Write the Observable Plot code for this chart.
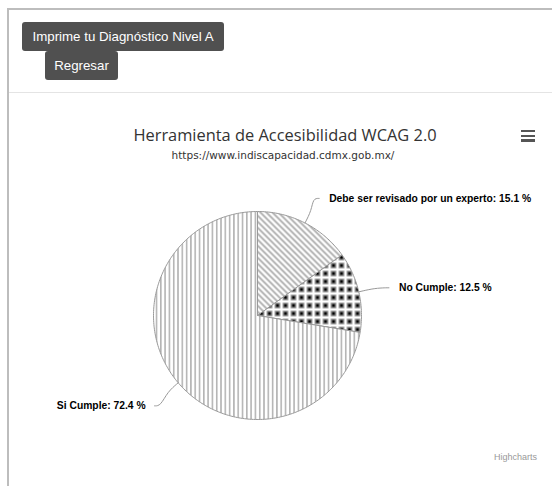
<!DOCTYPE html>
<html>
<head>
<meta charset="utf-8">
<script src="https://cdn.jsdelivr.net/npm/d3@7"></script>
<script src="https://cdn.jsdelivr.net/npm/@observablehq/plot@0.6"></script>
<style>
  html, body { margin: 0; padding: 0; background: #fff; }
  body { width: 552px; height: 486px; position: relative; overflow: hidden; font-family: "Liberation Sans", Arial, sans-serif; }
  .frame { position: absolute; left: 7px; top: 8px; width: 700px; height: 700px; border-left: 2px solid #bdbdbd; border-top: 2px solid #bdbdbd; }
  .btn { position: absolute; background: #505050; color: #fff; border-radius: 3px; font-size: 13.3px; display: flex; align-items: center; justify-content: center; }
  .sep { position: absolute; left: 9px; top: 91.5px; width: 543px; height: 1.5px; background: #e4e4e4; }
  .title { position: absolute; left: 9px; width: 552px; text-align: center; color: #333; }
  .bar { position: absolute; left: 520.5px; width: 14.5px; height: 2.4px; background: #555; }
  .credit { position: absolute; right: 15px; top: 452px; font-size: 9px; color: #999; }
  #chart { position: absolute; left: 9px; top: 165px; }
</style>
</head>
<body>
<svg width="0" height="0" style="position:absolute">
  <defs>
    <pattern id="p-diag" patternUnits="userSpaceOnUse" width="6" height="6">
      <rect width="6" height="6" fill="#fff"/>
      <path d="M0 0L6 6M-1 5L1 7M5 -1L7 1" stroke="#a8a8a8" stroke-width="1.7"/>
    </pattern>
    <pattern id="p-squares" patternUnits="userSpaceOnUse" width="8" height="8">
      <rect width="8" height="8" fill="#fff"/>
      <rect x="1.2" y="1.2" width="5.6" height="5.6" fill="#8a8a8a"/>
      <rect x="2.6" y="2.6" width="2.8" height="2.8" fill="#000"/>
    </pattern>
    <pattern id="p-vert" patternUnits="userSpaceOnUse" width="4.3" height="4">
      <rect width="4.3" height="4" fill="#fff"/>
      <rect x="0" y="0" width="1.6" height="4" fill="#b4b4b4"/>
    </pattern>
  </defs>
</svg>
<div class="frame"></div>
<div class="btn" style="left:22px; top:22px; width:202px; height:29px;">Imprime tu Diagnóstico Nivel A</div>
<div class="btn" style="left:45px; top:51px; width:73px; height:29px;">Regresar</div>
<div class="sep"></div>
<div class="title" style="left:0; width:570px; top:123px; font-size:16.4px; font-family:'Open Sans', sans-serif;" id="t1"></div>
<div class="title" style="left:0; width:566px; top:149px; font-size:10.5px; font-family:'DejaVu Sans', sans-serif;" id="t2"></div>
<div class="bar" style="top:130px"></div>
<div class="bar" style="top:134.8px"></div>
<div class="bar" style="top:139.2px"></div>
<div class="credit">Highcharts</div>
<div id="chart"></div>
<script>
const titleText = "Herramienta de Accesibilidad WCAG 2.0";
const subtitleText = "https://www.indiscapacidad.cdmx.gob.mx/";
const categories = ["Debe ser revisado por un experto", "No Cumple", "Si Cumple"];
const values = [15.1, 12.5, 72.4];
const fills = ["url(#p-diag)", "url(#p-squares)", "url(#p-vert)"];

document.getElementById("t1").textContent = titleText;
document.getElementById("t2").textContent = subtitleText;

const W = 543, H = 321, cx = 248, cy = 150, R = 104;
const data = categories.map((c, i) => ({category: c, value: values[i], fill: fills[i]}));
const arcs = d3.pie().sort(null).value(d => d.value)(data);

const pt = (a, r) => ({x: r * Math.sin(a), y: r * Math.cos(a)});

const slices = arcs.map(a => {
  const pts = [{x: 0, y: 0}];
  const n = Math.max(2, Math.ceil((a.endAngle - a.startAngle) / (Math.PI / 180)));
  for (let k = 0; k <= n; k++) pts.push(pt(a.startAngle + (a.endAngle - a.startAngle) * k / n, R));
  pts.push({x: 0, y: 0});
  return {fill: a.data.fill, pts};
});

const labels = arcs.map(a => {
  const mid = (a.startAngle + a.endAngle) / 2;
  const side = Math.sin(mid) >= 0 ? 1 : -1;
  const e = pt(mid, R + 31);
  e.y -= 3;
  const edge = pt(mid, R);
  const elbow = pt(mid, R + 14);
  const pre = {x: e.x - side * 6, y: e.y};
  return {
    side, x: e.x, y: e.y,
    text: `${a.data.category}: ${a.data.value.toFixed(1)} %`,
    line: [edge, elbow, pre, e].map(p => ({...p, key: a.data.category}))
  };
});

const plot = Plot.plot({
  width: W, height: H,
  margin: 0,
  x: {domain: [-cx, W - cx], range: [0, W], axis: null},
  y: {domain: [-(H - cy), cy], range: [H, 0], axis: null},
  marks: [
    ...slices.map(s => Plot.line(s.pts, {x: "x", y: "y", fill: s.fill, stroke: "#9a9a9a", strokeWidth: 1, curve: "linear"})),
    Plot.line(labels.flatMap(l => l.line), {x: "x", y: "y", z: "key", stroke: "#999", strokeWidth: 1, curve: "basis"}),
    Plot.text(labels.filter(l => l.side > 0), {x: "x", y: "y", text: "text", textAnchor: "start", dx: 10, fontWeight: "bold", fontSize: 10.3, fill: "#000", fontFamily: "Liberation Sans, Arial, sans-serif"}),
    Plot.text(labels.filter(l => l.side < 0), {x: "x", y: "y", text: "text", textAnchor: "end", dx: -9, fontWeight: "bold", fontSize: 10.3, fill: "#000", fontFamily: "Liberation Sans, Arial, sans-serif"})
  ]
});
document.getElementById("chart").appendChild(plot);
</script>
</body>
</html>
